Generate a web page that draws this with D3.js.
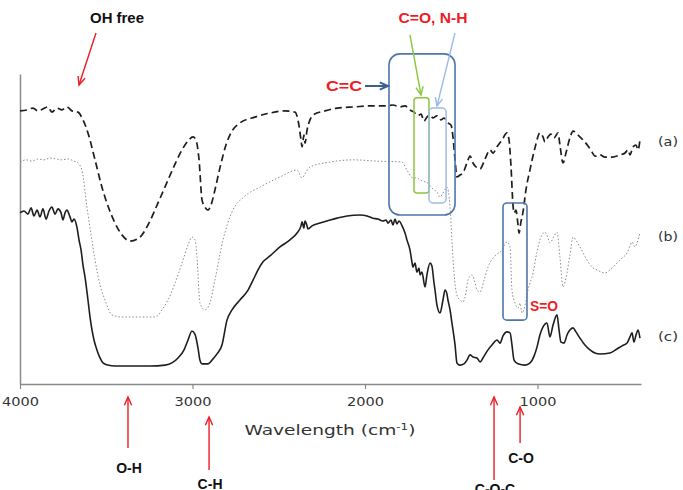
<!DOCTYPE html>
<html>
<head>
<meta charset="utf-8">
<script src="https://cdn.jsdelivr.net/npm/d3@7"></script>
<style>
body { margin: 0; background: #fff; }
</style>
</head>
<body>
<script>
// spectra: wavenumber (cm-1) and transmittance (a.u.)
var waveA = [4000,3959,3925,3896,3867,3838,3815,3786,3757,3728,3699,3664,3635,3606,3565,3525,3490,3449,3409,3362,3310,3258,3200,3142,3096,3061,3026,2997,2980,2962,2945,2928,2910,2893,2870,2841,2806,2771,2725,2638,2551,2464,2406,2383,2371,2365,2354,2348,2336,2319,2301,2232,2162,2058,1971,1884,1838,1797,1768,1739,1716,1693,1675,1658,1641,1623,1606,1583,1559,1542,1519,1501,1490,1478,1467,1449,1432,1409,1391,1374,1356,1333,1304,1275,1258,1235,1206,1177,1165,1154,1142,1136,1125,1113,1107,1096,1084,1067,1044,1015,986,968,957,939,922,904,881,870,852,835,812,794,765,736,707,684,667,638,609,568,522,493,475,464,446,429,417,406];
var transA = [88.1,88.4,89.0,88.1,88.7,89.4,87.7,89.0,88.4,89.4,88.1,87.7,85.2,81.0,72.3,63.5,57.4,51.9,48.1,46.1,47.1,51.3,58.4,65.8,71.6,75.5,78.4,79.7,78.7,72.3,59.4,57.1,56.1,57.7,62.6,69.7,77.1,81.6,84.2,86.1,87.4,88.1,87.7,83.5,78.7,76.5,80.3,77.7,81.9,85.2,86.8,88.1,89.0,89.4,89.7,89.7,90.0,89.4,89.7,88.4,87.7,86.5,87.1,84.8,86.1,86.8,85.8,86.5,85.2,85.8,84.2,83.5,79.7,72.3,66.8,67.4,68.1,71.3,73.5,71.3,70.0,69.4,72.6,75.5,74.5,76.5,78.7,81.0,78.7,70.6,57.7,55.2,56.1,51.3,48.7,52.3,55.5,62.6,69.0,76.1,81.0,79.7,78.1,79.7,80.6,79.4,81.0,77.1,71.3,74.5,79.4,81.6,80.3,78.7,76.8,74.8,73.5,73.9,73.2,73.2,73.9,74.5,75.5,73.9,76.5,77.1,75.5,78.7];

var waveB = [4000,3965,3930,3896,3861,3826,3791,3757,3722,3687,3664,3641,3612,3588,3565,3536,3507,3467,3409,3304,3217,3177,3142,3101,3061,3026,3003,2986,2974,2957,2928,2899,2870,2823,2771,2696,2609,2493,2394,2365,2342,2319,2203,2070,1930,1785,1757,1722,1699,1681,1652,1635,1612,1583,1565,1548,1525,1507,1496,1484,1467,1449,1432,1414,1403,1380,1362,1351,1333,1310,1287,1258,1235,1206,1188,1177,1159,1148,1130,1113,1101,1090,1072,1055,1026,1003,986,957,939,928,904,887,870,852,835,812,794,771,754,713,684,655,609,580,539,510,481,464,452,435,423,406];
var transB = [71.6,72.3,71.9,72.6,72.3,72.9,72.6,72.3,72.6,71.9,71.3,69.0,57.1,48.1,40.0,31.9,27.1,22.3,21.6,21.6,21.6,23.9,27.1,32.6,39.0,44.8,47.4,46.5,41.0,26.1,23.9,26.1,33.5,46.5,55.5,60.6,63.5,66.8,69.0,66.5,68.4,70.0,71.6,72.3,71.9,71.6,69.0,66.5,66.5,65.8,65.2,64.8,63.2,61.9,60.3,61.6,63.5,57.1,46.5,35.8,28.7,27.1,26.5,29.7,33.5,35.2,32.6,30.3,29.7,33.5,37.7,40.6,41.9,43.2,45.2,45.8,44.2,30.3,26.1,24.5,26.1,22.9,25.5,30.3,35.8,42.6,46.5,49.0,47.1,45.5,47.7,49.0,41.0,31.3,34.2,41.6,47.4,45.8,44.2,40.0,37.7,36.8,35.8,36.8,39.0,40.6,42.3,44.5,45.8,44.2,45.5,48.7];

var waveC = [4000,3977,3954,3936,3919,3901,3884,3867,3849,3832,3815,3797,3780,3762,3751,3739,3728,3710,3699,3687,3670,3658,3646,3635,3623,3606,3594,3571,3554,3536,3519,3490,3449,3362,3246,3159,3119,3084,3049,3026,3003,2986,2968,2957,2945,2910,2887,2858,2829,2800,2771,2725,2678,2649,2620,2591,2551,2493,2435,2394,2371,2365,2354,2348,2336,2331,2307,2261,2203,2162,2104,2029,1988,1954,1925,1896,1878,1867,1849,1838,1826,1815,1803,1785,1768,1757,1739,1728,1722,1710,1699,1687,1681,1670,1652,1641,1623,1612,1600,1594,1583,1565,1548,1536,1525,1519,1507,1496,1478,1467,1449,1426,1409,1391,1374,1351,1333,1310,1287,1264,1235,1217,1200,1177,1159,1148,1136,1113,1072,1043,1020,1003,986,968,945,928,910,887,875,864,846,829,812,794,777,754,725,696,667,638,580,539,510,481,464,452,441,429,417,406];
var transC = [55.2,55.8,54.8,56.8,54.2,56.1,53.9,56.5,53.2,55.8,57.1,54.8,56.5,55.2,52.9,55.2,56.1,53.9,52.3,53.2,50.6,46.5,43.2,38.4,34.5,27.1,21.6,14.2,11.0,8.4,6.8,6.1,5.8,5.8,5.8,6.1,6.8,8.4,11.0,14.2,17.1,16.1,11.6,7.7,6.5,6.5,7.7,9.7,12.6,20.6,23.9,27.1,30.3,33.5,36.8,39.4,41.3,44.2,46.5,48.7,51.0,52.3,50.3,52.6,51.0,50.0,51.0,51.9,52.9,53.5,54.2,54.5,54.2,53.5,53.2,52.6,52.9,51.9,52.9,51.3,53.2,51.6,52.6,51.0,48.7,46.5,43.2,39.4,37.7,39.0,36.1,37.4,35.2,36.1,31.3,35.2,39.0,38.1,32.6,30.3,25.5,22.9,27.1,30.3,29.0,27.1,23.9,19.7,12.6,6.8,6.1,6.5,7.7,9.4,8.7,8.4,7.1,9.0,11.0,12.6,14.2,13.2,15.5,16.8,16.5,12.6,7.7,6.5,6.1,6.8,9.0,11.9,15.8,18.4,19.7,15.2,19.0,22.3,17.4,13.5,13.2,15.8,17.4,18.1,16.8,14.8,12.6,11.0,10.0,9.7,10.0,11.3,12.3,13.2,15.2,16.5,13.5,15.8,17.4,14.8];

var xTicks = [4000, 3000, 2000, 1000];
var seriesNames = ["(a)", "(b)", "(c)"];

var width = 683, height = 490;

var svg = d3.select("body").append("svg")
  .attr("width", width)
  .attr("height", height);

var x = d3.scaleLinear().domain([4000, 400]).range([20, 641]);
var y = d3.scaleLinear().domain([0, 100]).range([384, 74]);

function pts(w, t) { return w.map(function(d, i) { return [d, t[i]]; }); }

var line = d3.line()
  .curve(d3.curveMonotoneX)
  .x(function(d) { return x(d[0]); })
  .y(function(d) { return y(d[1]); });

// axes
var xAxis = svg.append("g")
  .attr("transform", "translate(0," + y(0) + ")")
  .call(d3.axisBottom(x).tickValues(xTicks).tickSize(5).tickSizeOuter(0).tickFormat(d3.format("d")));
xAxis.select(".domain").attr("stroke", "#8a8a8a").attr("stroke-width", 1.5);
xAxis.selectAll(".tick line").attr("stroke", "#8a8a8a").attr("stroke-width", 1.2);
xAxis.selectAll(".tick text")
  .attr("y", 13)
  .attr("fill", "#333")
  .style("font-family", "DejaVu Sans")
  .style("font-size", "13px")
  .attr("textLength", 37)
  .attr("lengthAdjust", "spacingAndGlyphs");

var yAxis = svg.append("g")
  .attr("transform", "translate(" + x(4000) + ",0)")
  .call(d3.axisLeft(y).tickValues([]).tickSizeOuter(0));
yAxis.select(".domain").attr("stroke", "#8a8a8a").attr("stroke-width", 1.5);

var xt = svg.append("text")
  .attr("x", 330).attr("y", 435)
  .attr("text-anchor", "middle")
  .attr("fill", "#333")
  .style("font-family", "DejaVu Sans")
  .style("font-size", "14px")
  .attr("textLength", 171)
  .attr("lengthAdjust", "spacingAndGlyphs");
xt.append("tspan").text("Wavelength (cm");
xt.append("tspan").attr("dy", -5).style("font-size", "9px").text("-1");
xt.append("tspan").attr("dy", 5).text(")");

// spectra
svg.append("path").datum(pts(waveB, transB))
  .attr("fill", "none").attr("stroke", "#8c8c8c").attr("stroke-width", 1)
  .attr("stroke-dasharray", "1.5,2").attr("d", line);
svg.append("path").datum(pts(waveC, transC))
  .attr("fill", "none").attr("stroke", "#1e1e1e").attr("stroke-width", 1.6)
  .attr("d", line);
svg.append("path").datum(pts(waveA, transA))
  .attr("fill", "none").attr("stroke", "#1e1e1e").attr("stroke-width", 1.7)
  .attr("stroke-dasharray", "7,4").attr("d", line);

// series labels
var labY = [146, 241, 341];
svg.selectAll(".slab").data(seriesNames).enter()
  .append("text")
  .attr("x", 658).attr("y", function(d, i) { return labY[i]; })
  .attr("fill", "#333")
  .style("font-family", "DejaVu Sans")
  .style("font-size", "12px")
  .attr("textLength", 20).attr("lengthAdjust", "spacingAndGlyphs")
  .text(function(d) { return d; });

// annotation helpers
function arrow(x1, y1, x2, y2, color, w) {
  var a = Math.atan2(y2 - y1, x2 - x1), L = 9, s = 0.42;
  svg.append("line")
    .attr("x1", x1).attr("y1", y1).attr("x2", x2).attr("y2", y2)
    .attr("stroke", color).attr("stroke-width", w);
  svg.append("path")
    .attr("d", "M" + (x2 - L * Math.cos(a - s)) + "," + (y2 - L * Math.sin(a - s)) +
      "L" + x2 + "," + y2 +
      "L" + (x2 - L * Math.cos(a + s)) + "," + (y2 - L * Math.sin(a + s)))
    .attr("fill", "none").attr("stroke", color).attr("stroke-width", w);
}
function label(txt, xp, yp, color, anchor, len) {
  var t = svg.append("text")
    .attr("x", xp).attr("y", yp)
    .attr("text-anchor", anchor)
    .attr("fill", color)
    .style("font-family", "Liberation Sans, Arial, sans-serif")
    .style("font-weight", "bold")
    .style("font-size", "14px")
    .text(txt);
  if (len) t.attr("textLength", len).attr("lengthAdjust", "spacingAndGlyphs");
}
function box(w1, w2, t1, t2, color, r, sw) {
  svg.append("rect")
    .attr("x", x(w1)).attr("y", y(t1))
    .attr("width", x(w2) - x(w1)).attr("height", y(t2) - y(t1))
    .attr("rx", r).attr("ry", r)
    .attr("fill", "none").attr("stroke", color).attr("stroke-width", sw);
}

var red = "#ee1c25";

// boxes around bands
box(1861, 1478, 106.5, 54.5, "#4f76a8", 11, 1.6);
box(1716, 1629, 92.3, 61.6, "#8cc63f", 3, 1.5);
box(1629, 1530, 89.0, 58.4, "#9dbbe3", 4, 1.5);
box(1200, 1061, 58.4, 20.6, "#4f76a8", 4, 1.6);

// top annotations
label("OH free", 117, 23, "#111", "middle", 54);
arrow(96, 33, x(3658), 85, red, 1.4);
label("C=O, N-H", 433, 23, red, "middle", 69);
arrow(410, 35, 421, 95, "#8cc63f", 1.4);
arrow(455, 33, 437, 106, "#9dbbe3", 1.4);
label("C=C", 362, 91, red, "end", 36);
arrow(365, 86, 388, 86, "#3d5f8e", 2);
label("S=O", 530, 311, red, "start", 28);

// bottom annotations
var botWave = [3374, 2904, 1252, 1101];
var botText = ["O-H", "C-H", "C-O-C", "C-O"];
var botY1 = [448, 470, 480, 443];
var botY2 = [397, 417, 397, 407];
var botTY = [473, 489, 494, 463];
botWave.forEach(function(w, i) {
  arrow(x(w), botY1[i], x(w), botY2[i], red, 1.4);
  label(botText[i], x(w) + 1, botTY[i], "#111", "middle");
});
</script>
</body>
</html>
